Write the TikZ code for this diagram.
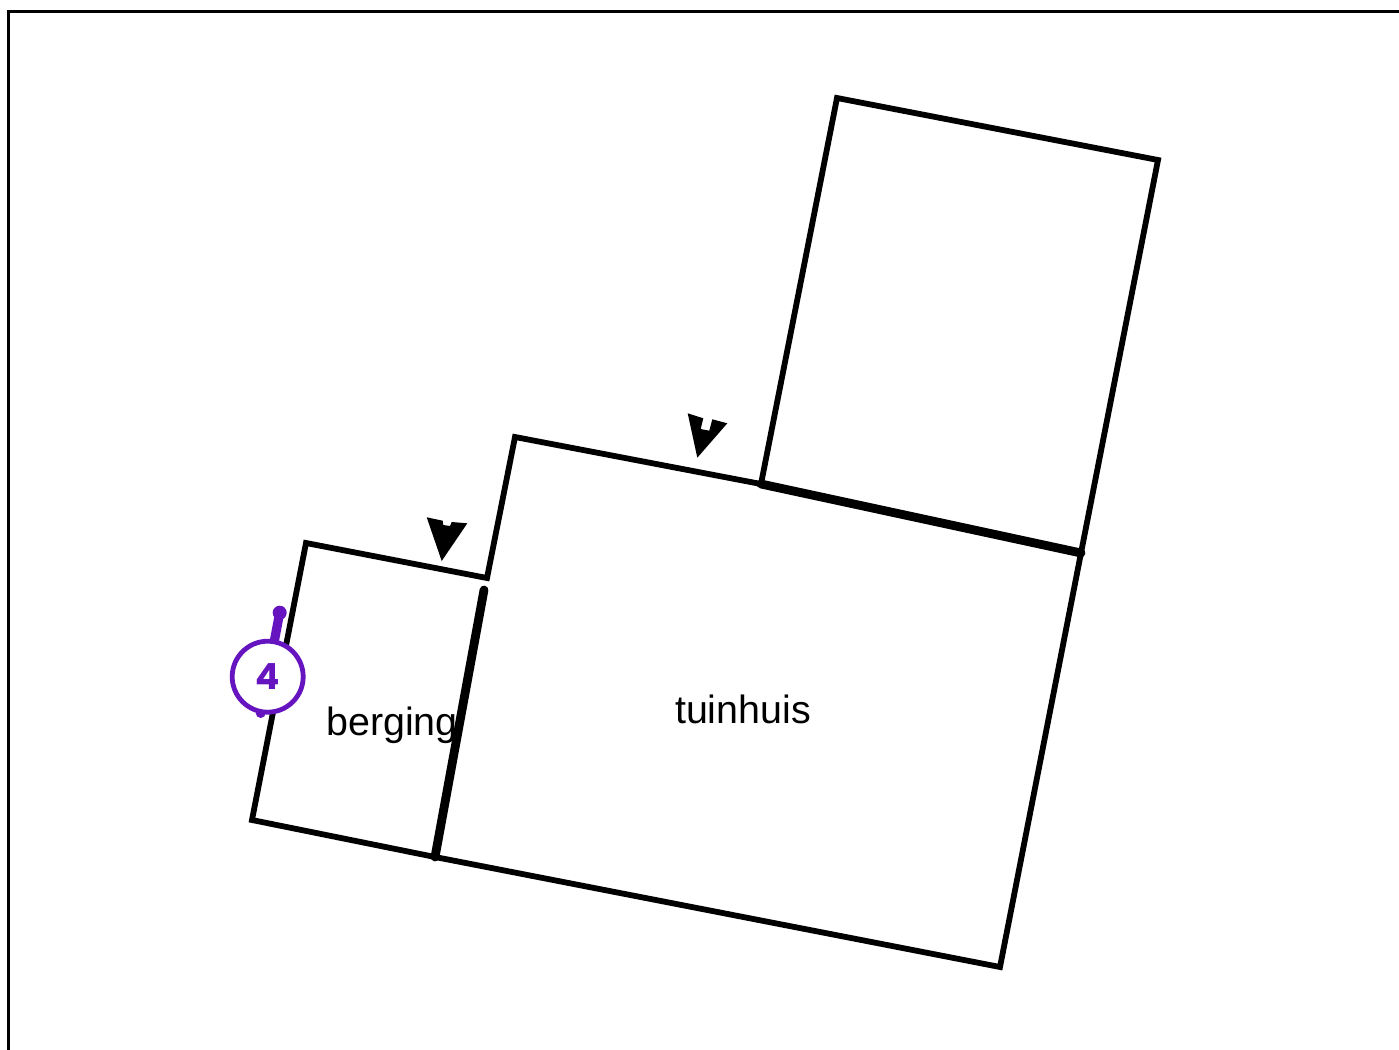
\documentclass[tikz,border=0pt]{standalone}
\usepackage{fontspec}
\setmainfont{Liberation Sans}
\newfontfamily\badgefont{Poppins}
\definecolor{badge}{HTML}{6614C0}
\tikzset{
  wall/.style={draw=black,line width=2.9pt,line join=miter,line cap=round},
  thickwall/.style={draw=black,line width=4.4pt,line cap=round},
  frameline/.style={draw=black,line width=1.5pt},
  marker/.style={fill=black,draw=none},
  roomlabel/.style={font=\fontsize{19.7pt}{22pt}\selectfont,inner sep=0pt,anchor=base,text=black},
  badgering/.style={circle,draw=badge,line width=2.4pt,fill=white,minimum size=35.5pt,inner sep=0pt,text=badge,font=\badgefont\bfseries\fontsize{18pt}{20pt}\selectfont},
  badgestem/.style={draw=badge,line width=4.6pt},
}
\begin{document}
\begin{tikzpicture}[x=0.5pt,y=-0.5pt]
\useasboundingbox (0,0) rectangle (1399,1050);
\fill[white] (0,0) rectangle (1399,1050);
\coordinate (fa) at (8.5,1050);
\coordinate (fb) at (8.5,11.5);
\coordinate (fc) at (1399,11.5);
\draw[frameline] (fa) -- (fb) -- (fc);
% corners
\coordinate (a) at (515,437);
\coordinate (b) at (761,484);
\coordinate (c) at (1081,553);
\coordinate (d) at (1000,967);
\coordinate (e) at (435,857);
\coordinate (f) at (252,820);
\coordinate (g) at (306,543);
\coordinate (h) at (487,578);
\coordinate (i) at (837,98);
\coordinate (j) at (1158,160);
\coordinate (k) at (484,590);
\draw[wall] (b) -- (a) -- (h) -- (g) -- (f) -- (e) -- (d) -- (c);
\draw[wall] (b) -- (i) -- (j) -- (c);
\draw[thickwall] (b) -- (c);
\draw[thickwall] (k) -- (e);
% entrance markers
\fill[marker] (687.7,413.3) -- (703.3,418.3) -- (700.7,429) -- (709.3,430.7) -- (712.3,419.3) -- (727.3,423.3) -- (697.3,457.7) -- cycle;
\fill[marker] (426.7,517.3) -- (442.7,520.7) -- (443.3,525) -- (450,526) -- (451.7,522) -- (467.3,523.3) -- (441.7,561) -- cycle;
% badge
\coordinate (top) at (279.7,612.7);
\coordinate (bot) at (260.7,713);
\draw[badgestem] (top) -- (bot);
\fill[badge] (top) circle (7);
\fill[badge] (bot) circle (5);
\node[badgering] (badge) at (267.7,676.7) {4};
% labels
\node[roomlabel] (berging) at (392,735) {berging};
\node[roomlabel] (tuinhuis) at (743,723) {tuinhuis};
\end{tikzpicture}
\end{document}
